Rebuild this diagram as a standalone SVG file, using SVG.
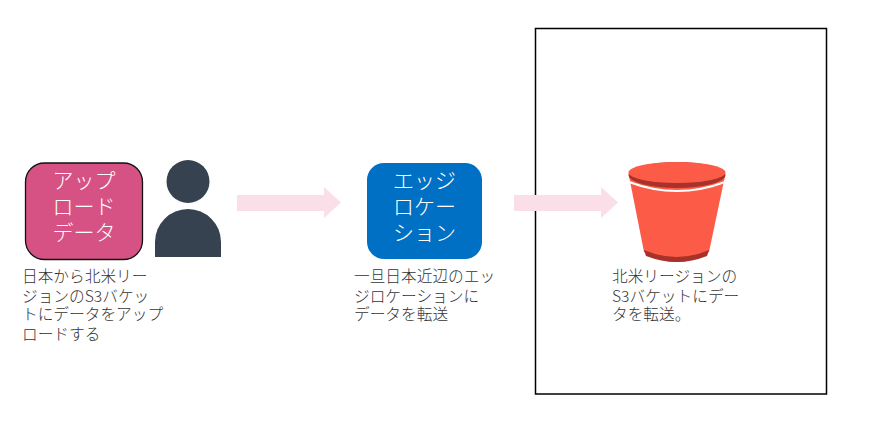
<svg xmlns="http://www.w3.org/2000/svg" width="877" height="441" viewBox="0 0 877 441">
<style>
text{font-family:"Noto Sans CJK JP","Noto Sans",sans-serif}
.w{fill:#fff;font-size:21px;text-anchor:middle;font-weight:300}
.c{fill:#333;font-size:15.700px;font-weight:300}
.a{fill:#fadfe9}
</style>
<rect width="877" height="441" fill="#fff"/>
<g id="region"><rect x="535.500" y="28.500" width="291" height="365.500" fill="none" stroke="#000" stroke-width="1.500"/></g>
<g id="connectors">
<path class="a" d="M237 195H324V187L341 202.500L324 218V211H237Z"/>
<path class="a" d="M514 195H601V187L618 202.500L601 218V211H514Z"/>
</g>
<g id="upload">
<rect x="25.500" y="163" width="117" height="96.500" rx="19" fill="#d65284" stroke="#111" stroke-width="1.300"/>
<text class="w"><tspan x="84" y="188">アップ</tspan><tspan x="84" y="214">ロード</tspan><tspan x="84" y="240">データ</tspan></text>
<text class="c"><tspan x="22" y="282">日本から北米リー</tspan><tspan x="22" y="302">ジョンのS3バケッ</tspan><tspan x="22" y="320">トにデータをアップ</tspan><tspan x="22" y="340">ロードする</tspan></text>
</g>
<g id="user">
<circle cx="188" cy="181.500" r="21.500" fill="#36424f"/>
<path d="M155 257V242A33 33 0 0 1 188 209A33 33 0 0 1 221 242V257Z" fill="#36424f"/>
</g>
<g id="edge">
<rect x="367" y="163" width="115" height="96" rx="17" fill="#0070c4"/>
<text class="w"><tspan x="424.500" y="188">エッジ</tspan><tspan x="424.500" y="214">ロケー</tspan><tspan x="424.500" y="240">ション</tspan></text>
<text class="c"><tspan x="354" y="282">一旦日本近辺のエッ</tspan><tspan x="354" y="302">ジロケーションに</tspan><tspan x="354" y="320">データを転送</tspan></text>
</g>
<g id="bucket">
<path d="M629 176L644 252Q677 272 709 252L725 176Z" fill="#fc5b47"/>
<path d="M644 250L646 256Q677 268 707 256L709 250Q677 264 644 250Z" fill="#a8322a"/>
<path d="M629 182Q677 200 725 182" fill="none" stroke="#fff" stroke-width="2"/>
<ellipse cx="677" cy="175" rx="48.500" ry="13" fill="#a8322a"/>
<ellipse cx="677" cy="172.500" rx="48.500" ry="10.500" fill="#fc5b47"/>
<text class="c"><tspan x="612" y="282">北米リージョンの</tspan><tspan x="612" y="302">S3バケットにデー</tspan><tspan x="612" y="320">タを転送。</tspan></text>
</g>
</svg>
